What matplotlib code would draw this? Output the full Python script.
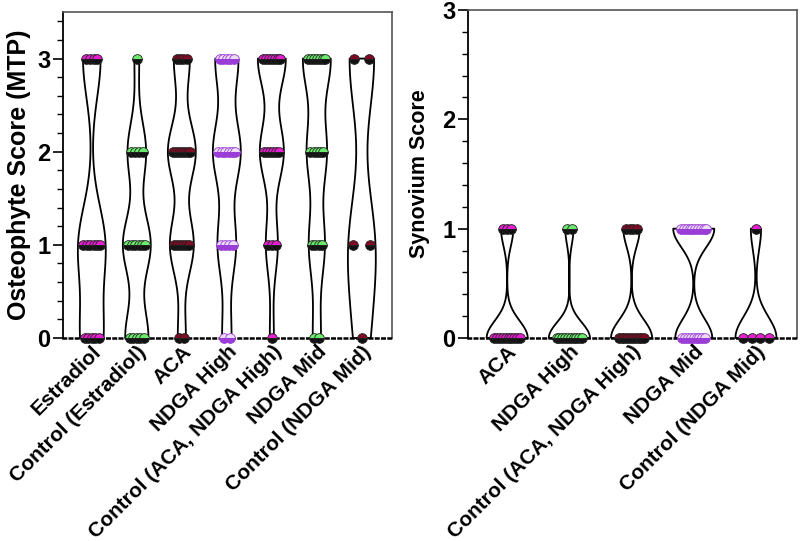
import numpy as np
import matplotlib
matplotlib.use('Agg')
import matplotlib.pyplot as plt
from matplotlib.ticker import MultipleLocator

plt.rcParams['font.family'] = ['Liberation Sans', 'DejaVu Sans']
plt.rcParams['font.weight'] = 'bold'

# Osteophyte score (MTP): number of animals at each score
osteo_scores = [0, 1, 2, 3]
osteo_groups = ['Estradiol', 'Control (Estradiol)', 'ACA', 'NDGA High',
                'Control (ACA, NDGA High)', 'NDGA Mid', 'Control (NDGA Mid)']
osteo_counts = [[5, 6, 0, 4],
                [5, 6, 4, 1],
                [2, 6, 7, 4],
                [2, 4, 6, 5],
                [1, 3, 6, 7],
                [2, 4, 5, 7],
                [1, 2, 0, 2]]
osteo_colors = ['magenta', 'green', 'darkred', 'purple', 'magenta', 'green', 'darkred']

# Synovium score: number of animals at each score
syn_scores = [0, 1]
syn_groups = ['ACA', 'NDGA High', 'Control (ACA, NDGA High)', 'NDGA Mid',
              'Control (NDGA Mid)']
syn_counts = [[10, 3],
              [10, 2],
              [10, 4],
              [9, 10],
              [4, 1]]
syn_colors = ['magenta', 'green', 'darkred', 'purple', 'magenta']

marker_style = {
    'magenta': dict(markerfacecolor='#E61ECF', markerfacecoloralt='#111111', markeredgecolor='#222222'),
    'green': dict(markerfacecolor='#6BEB6B', markerfacecoloralt='#111111', markeredgecolor='#222222'),
    'darkred': dict(markerfacecolor='#800A24', markerfacecoloralt='#111111', markeredgecolor='#222222'),
    'purple': dict(markerfacecolor='#EBDDF7', markerfacecoloralt='#9A3CD6', markeredgecolor='#9A3CD6'),
}


def draw_panel(ax, groups, counts, colors, scores, width):
    data = [np.repeat(scores, c).astype(float) for c in counts]
    pos = np.arange(len(groups))
    parts = ax.violinplot(data, positions=pos, widths=width, showextrema=False,
                          bw_method=lambda k: 0.6 * k.scotts_factor(), points=300)
    for i, body in enumerate(parts['bodies']):
        body.set_facecolor('none')
        body.set_edgecolor('black')
        body.set_linewidth(1.3)
        body.set_alpha(1)
        body.set_clip_on(False)
        # spread the points of each score across the violin width
        v = body.get_paths()[0].vertices
        right = v[v[:, 0] > pos[i]]
        order = np.argsort(right[:, 1])
        for s, n in zip(scores, counts[i]):
            if n == 0:
                continue
            hw = np.interp(s, right[order, 1], right[order, 0] - pos[i])
            half = 0.62 * hw if n > 1 else 0
            xs = pos[i] + np.linspace(-half, half, n)
            ax.plot(xs, [s] * n, ls='none', marker='o', ms=7, fillstyle='top',
                    mew=0.6, clip_on=False, zorder=3, **marker_style[colors[i]])
    ax.set_xticks(pos)
    ax.set_xticklabels(groups, rotation=45, ha='right', rotation_mode='anchor', fontsize=15)
    ax.tick_params(axis='x', length=0, pad=3)
    ax.tick_params(axis='y', which='major', length=7, width=1.2, labelsize=17, pad=2)
    ax.tick_params(axis='y', which='minor', length=4.5, width=1.0)
    ax.yaxis.set_major_locator(MultipleLocator(1))
    ax.yaxis.set_minor_locator(MultipleLocator(0.2))
    ax.spines['left'].set_linewidth(1.3)
    for side in ['top', 'right']:
        ax.spines[side].set_color('#555555')
        ax.spines[side].set_linewidth(1.2)
    ax.spines['bottom'].set_linestyle((0, (1, 1.5)))
    ax.spines['bottom'].set_linewidth(1.8)


fig = plt.figure(figsize=(8, 5.41), dpi=100)

ax1 = fig.add_axes([63 / 800, 203 / 541, 329 / 800, 326 / 541])
draw_panel(ax1, osteo_groups, osteo_counts, osteo_colors, osteo_scores, 0.62)
ax1.set_xlim(-0.64, 6.67)
ax1.set_ylim(0, 3.5)
ax1.set_ylabel('Osteophyte Score (MTP)', fontsize=18, fontweight='bold')
ax1.yaxis.set_label_coords(-0.097, 0.5)

ax2 = fig.add_axes([468 / 800, 203 / 541, 329 / 800, 328 / 541])
draw_panel(ax2, syn_groups, syn_counts, syn_colors, syn_scores, 0.66)
ax2.set_xlim(-0.63, 4.66)
ax2.set_ylim(0, 3)
ax2.set_ylabel('Synovium Score', fontsize=15.5, fontweight='bold')
ax2.yaxis.set_label_coords(-0.115, 0.5)

fig.savefig('out.png', dpi=100)
